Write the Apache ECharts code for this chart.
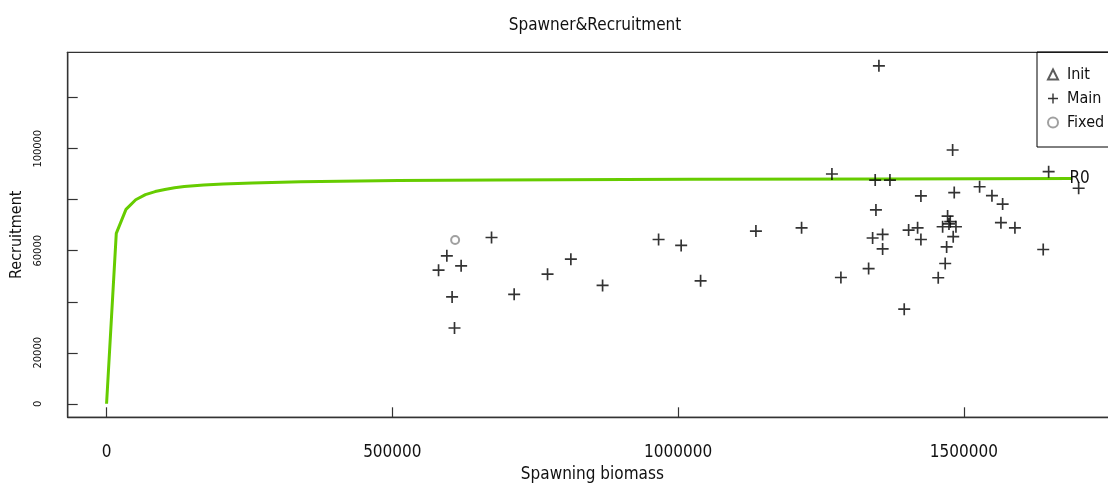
<!DOCTYPE html>
<html>
<head>
<meta charset="utf-8">
<title>Spawner&amp;Recruitment</title>
<script src="https://cdn.jsdelivr.net/npm/echarts@6/dist/echarts.min.js"></script>
<style>
  html, body { margin: 0; padding: 0; background: #fff; }
  #chart { width: 1108px; height: 486px; }
</style>
</head>
<body>
<div id="chart"></div>
<script>
// Stock–recruitment fit: spawning biomass vs. recruitment
const curveS = [0, 17000, 34000, 51000, 68000, 85000, 102000, 119000, 136000, 170000,
  204000, 255000, 340000, 510000, 680000, 1020000, 1360000, 1690000];
const curveR = [0, 66800, 76200, 80000, 82000, 83200, 84000, 84700, 85200, 85800,
  86200, 86600, 87000, 87500, 87700, 88000, 88100, 88300];

// Observed points (main run)
const mainS = [580900, 595400, 620400, 604600, 608800, 673600, 713200, 771600, 812400, 867900,
  965900, 1005400, 1039400, 1136200, 1216100, 1269200, 1284900, 1333400, 1340400, 1344900,
  1346200, 1351400, 1357900, 1357900, 1370700, 1395700, 1403400, 1419100, 1424900, 1424900,
  1455200, 1467400, 1469900, 1471600, 1476200, 1462900, 1486200, 1474000, 1480400, 1481400,
  1483200, 1527600, 1549200, 1567900, 1564900, 1589400, 1638900, 1648400, 1700900];
const mainR = [52400, 58000, 54100, 41900, 29700, 65200, 42900, 50800, 56700, 46400,
  64400, 62100, 48200, 67700, 69000, 90100, 49500, 53000, 65000, 87700,
  76000, 132500, 66400, 60700, 87700, 37100, 68100, 69000, 81500, 64400,
  49400, 55000, 61500, 73600, 71400, 69400, 69400, 70500, 99500, 65500,
  82800, 85100, 81600, 78300, 71000, 69000, 60500, 91000, 84500];

// Fixed-parameter point
const fixedS = [609900];
const fixedR = [64200];

// Axis ticks and labels
const xTicks = [0, 500000, 1000000, 1500000];
const yTicks = [0, 20000, 40000, 60000, 80000, 100000, 120000];
const yLabels = [0, 20000, 60000, 100000];

const FONT = "'Liberation Sans Narrow', 'DejaVu Sans Condensed', 'Liberation Sans', sans-serif";
const INK = '#111';
const AXIS = '#333';
const PLUS = 'path://M0,4.3 H4.3 V0 H5.7 V4.3 H10 V5.7 H5.7 V10 H4.3 V5.7 H0 Z';

const zip = (a, b) => a.map((v, i) => [v, b[i]]);
const plain = v => String(v);

const chart = echarts.init(document.getElementById('chart'), null, { renderer: 'canvas' });
chart.setOption({
  animation: false,
  backgroundColor: '#fff',
  title: {
    text: 'Spawner&Recruitment',
    left: 590, top: 12, textAlign: 'center',
    textStyle: { fontFamily: FONT, fontSize: 17, fontWeight: 'normal', color: INK }
  },
  legend: {
    orient: 'vertical',
    left: 1037, top: 52,
    padding: [14, 40, 16, 10],
    itemWidth: 10, itemHeight: 10, itemGap: 7,
    borderColor: '#000', borderWidth: 1,
    textStyle: { fontFamily: FONT, fontSize: 16, color: INK, lineHeight: 17, padding: [0, 0, 0, 4] },
    data: ['Init', 'Main', 'Fixed']
  },
  grid: {
    left: 67.7, top: 52.3, right: -9, bottom: 68.7,
    outerBoundsMode: 'none',
    show: true, borderColor: AXIS, borderWidth: 1.3, backgroundColor: 'transparent'
  },
  xAxis: {
    type: 'value', min: -68000, max: 1768000,
    name: 'Spawning biomass', nameLocation: 'middle', nameGap: 48,
    nameTextStyle: { fontFamily: FONT, fontSize: 17, color: INK },
    axisLine: { show: true, onZero: false, lineStyle: { color: AXIS, width: 1.3 } },
    axisTick: { show: true, inside: true, length: 10, customValues: xTicks,
      lineStyle: { color: AXIS, width: 1.2 } },
    axisLabel: { customValues: xTicks, formatter: plain, margin: 27, fontFamily: FONT, fontSize: 17, color: INK },
    splitLine: { show: false }
  },
  yAxis: {
    type: 'value', min: -5300, max: 137800,
    name: 'Recruitment', nameLocation: 'middle', nameGap: 42,
    nameTextStyle: { fontFamily: FONT, fontSize: 16, color: INK },
    axisLine: { show: true, onZero: false, lineStyle: { color: AXIS, width: 1.3 } },
    axisTick: { show: true, inside: true, length: 10, customValues: yTicks,
      lineStyle: { color: AXIS, width: 1.2 } },
    axisLabel: { customValues: yLabels, formatter: plain, rotate: 90, margin: 24, fontFamily: FONT, fontSize: 11, color: INK },
    splitLine: { show: false }
  },
  series: [
    {
      name: 'Fit', type: 'line', data: zip(curveS, curveR),
      showSymbol: false, symbol: 'none', silent: true,
      lineStyle: { color: '#66cc00', width: 3 },
      endLabel: { show: true, formatter: 'R0', distance: -3, fontFamily: FONT, fontSize: 17, color: INK },
      z: 2
    },
    {
      name: 'Init', type: 'scatter', data: [],
      symbol: 'emptyTriangle', symbolSize: 9,
      itemStyle: { color: '#333', borderWidth: 1.2 }
    },
    {
      name: 'Main', type: 'scatter', data: zip(mainS, mainR),
      symbol: PLUS, symbolSize: 12,
      itemStyle: { color: '#000' }, z: 3
    },
    {
      name: 'Fixed', type: 'scatter', data: zip(fixedS, fixedR),
      symbol: 'emptyCircle', symbolSize: 8,
      itemStyle: { color: '#888', borderWidth: 1.6 }, z: 3
    }
  ]
});
</script>
</body>
</html>
